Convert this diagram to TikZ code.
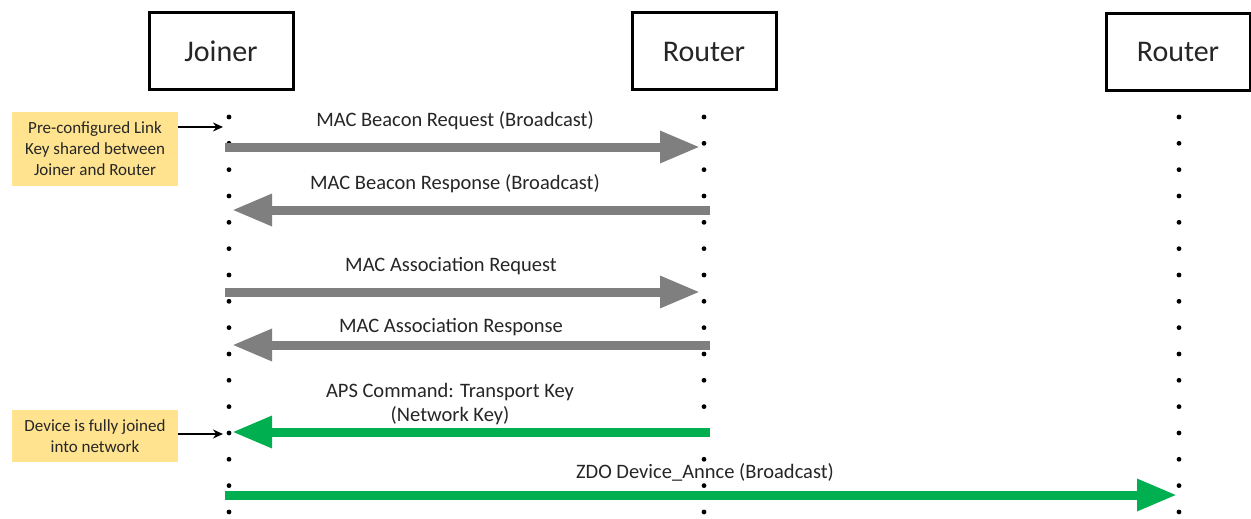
\documentclass[tikz,border=0pt]{standalone}
\usepackage{fontspec}
\setmainfont{Carlito}
\usetikzlibrary{arrows.meta}
\definecolor{msggray}{HTML}{7F7F7F}
\definecolor{msggreen}{HTML}{00B050}
\definecolor{notefill}{HTML}{FFE38F}
\definecolor{txt}{HTML}{262626}
\tikzset{
  actor/.style={draw=black, line width=3pt, minimum width=144pt, minimum height=77pt,
    font=\fontsize{30}{36}\selectfont, text=txt},
  lifedot/.style={fill=black, circle, inner sep=0pt, minimum size=4.8pt},
  msg/.style={line width=9pt, -{Triangle[length=40pt,width=30pt]}},
  graymsg/.style={msg, draw=msggray},
  greenmsg/.style={msg, draw=msggreen},
  msglabel/.style={font=\fontsize{20.5}{24}\selectfont, text=txt, align=center},
  note/.style={fill=notefill, text=txt, font=\fontsize{17}{21}\selectfont, align=center,
    minimum width=166pt, inner sep=2pt},
  notearrow/.style={draw=black, line width=1.5pt, -{Stealth[length=10pt,width=9pt]}}
}
\begin{document}
\begin{tikzpicture}[x=1pt,y=-1pt]
\useasboundingbox[fill=white] (0,0) rectangle (1251,519);

% participants
\node[actor] (joiner) at (221,51.5) {Joiner};
\node[actor] (routerA) at (704,51.5) {Router};
\node[actor] (routerB) at (1178,52) {Router};

% dotted lifelines
\foreach \x in {229,704,1179}{
  \foreach \i in {0,...,15}{
    \node[lifedot] at (\x,117+26.33*\i) {};
  }
}

% message end points
\coordinate (m1s) at (225,147);   \coordinate (m1e) at (700,147);
\coordinate (m2s) at (710,210);   \coordinate (m2e) at (232,210);
\coordinate (m3s) at (225,292);   \coordinate (m3e) at (700,292);
\coordinate (m4s) at (710,345);   \coordinate (m4e) at (232,345);
\coordinate (m5s) at (710,432);   \coordinate (m5e) at (232,432);
\coordinate (m6s) at (225,495);   \coordinate (m6e) at (1177,495);

% messages
\draw[graymsg] (m1s) -- (m1e);
\draw[graymsg] (m2s) -- (m2e);
\draw[graymsg] (m3s) -- (m3e);
\draw[graymsg] (m4s) -- (m4e);
\draw[greenmsg] (m5s) -- (m5e);
\draw[greenmsg] (m6s) -- (m6e);

% message labels
\node[msglabel] (l1) at (455,121) {MAC Beacon Request (Broadcast)};
\node[msglabel] (l2) at (455,184) {MAC Beacon Response (Broadcast)};
\node[msglabel] (l3) at (451,266) {MAC Association Request};
\node[msglabel] (l4) at (451,327) {MAC Association Response};
\node[msglabel] (l5) at (450,404) {APS Command: Transport Key\\(Network Key)};
\node[msglabel] (l6) at (705,472) {ZDO Device\_Annce (Broadcast)};

% notes
\node[note, minimum height=74pt] (n1) at (95,149) {Pre-configured Link\\Key shared between\\Joiner and Router};
\node[note, minimum height=52pt] (n2) at (95,436) {Device is fully joined\\into network};
\coordinate (n1t) at (223,127);
\coordinate (n2t) at (223,434);
\draw[notearrow] (n1.east |- n1t) -- (n1t);
\draw[notearrow] (n2.east |- n2t) -- (n2t);
\end{tikzpicture}
\end{document}
